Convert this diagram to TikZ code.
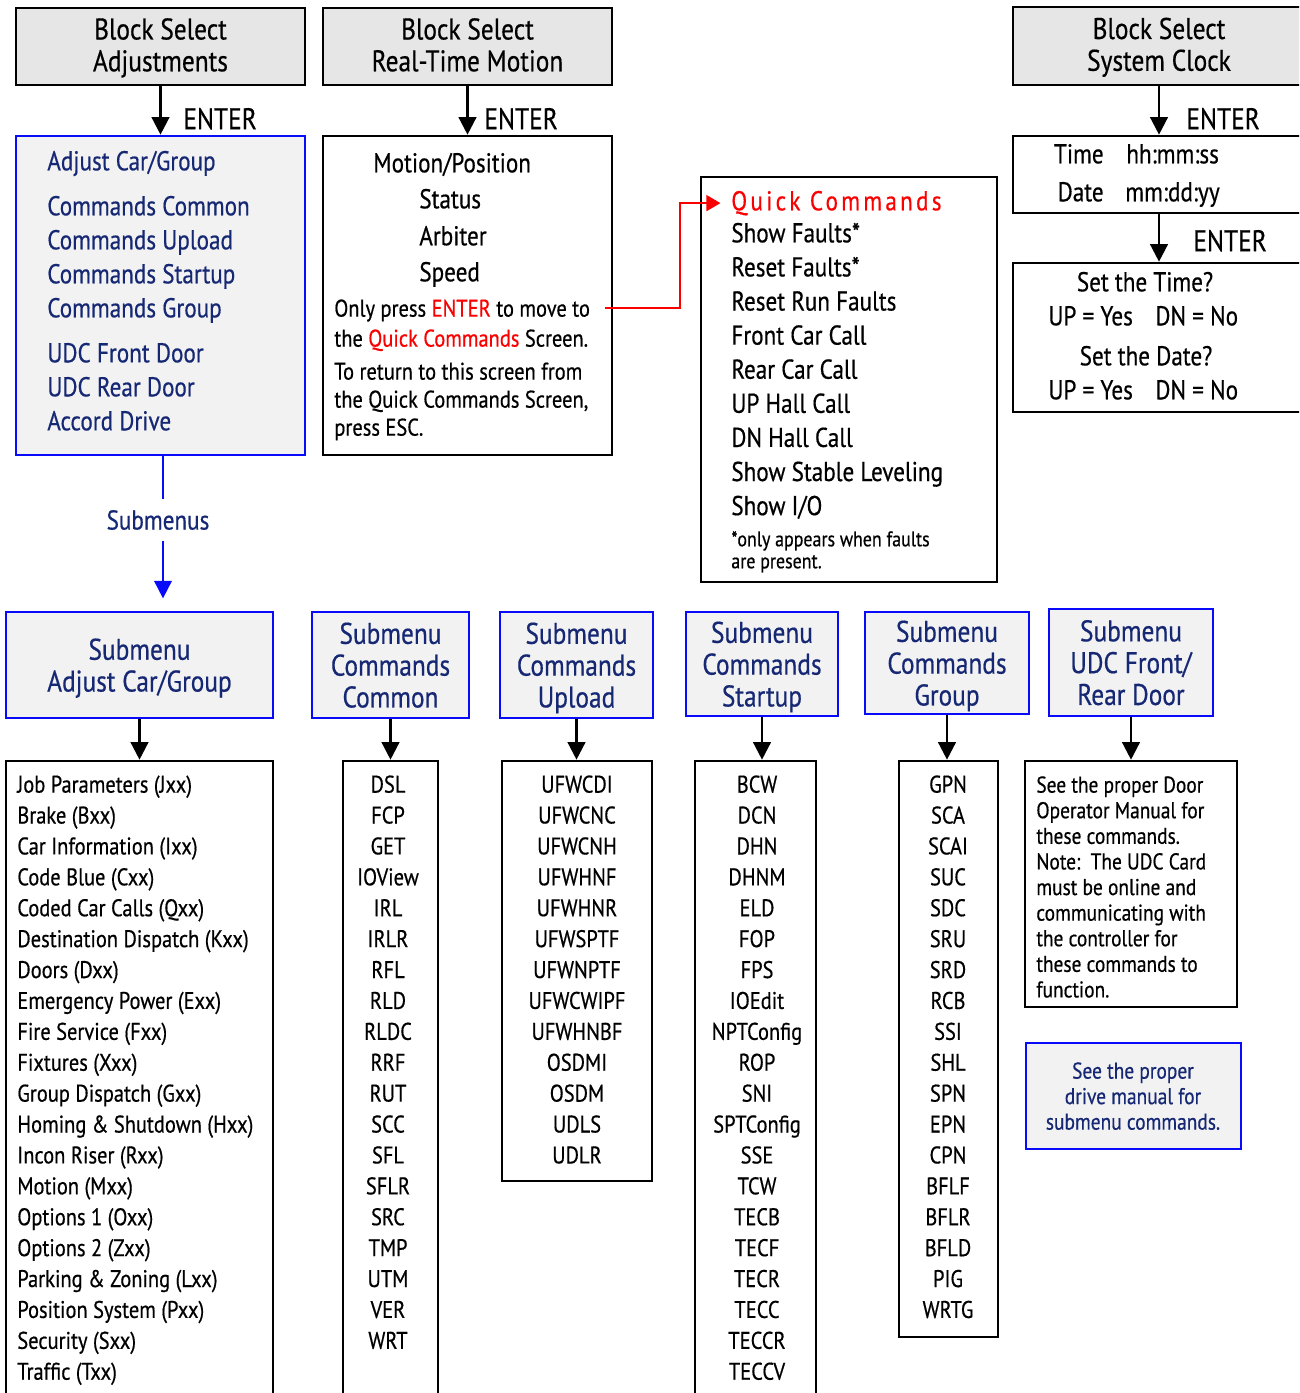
\documentclass[tikz,border=0pt]{standalone}
\usepackage{fontspec}
\setmainfont{PT Sans}[FakeStretch=0.85,FakeBold=0.5]
\newfontfamily\spacedface{PT Sans}[FakeStretch=0.85,FakeBold=0.5,LetterSpace=12]
\usetikzlibrary{arrows.meta,fit,calc}

\definecolor{blockgray}{RGB}{230,230,230}
\definecolor{menugray}{RGB}{242,242,242}
\definecolor{navy}{RGB}{22,40,115}
\definecolor{menublue}{RGB}{10,10,250}
\definecolor{alertred}{RGB}{250,0,0}

\tikzset{
  blockbox/.style={draw=black, line width=1.5pt, fill=blockgray, inner sep=0pt},
  plainbox/.style={draw=black, line width=1.5pt, fill=white, inner sep=0pt},
  menubox/.style={draw=menublue, line width=1.5pt, fill=menugray, inner sep=0pt},
  boxlbl/.style={inner sep=0pt, align=center, text depth=0pt, font=\fontsize{17}{18.1}\selectfont},
  sublbl/.style={boxlbl, text=navy},
  toptext/.style={inner sep=0pt, anchor=mid west, yshift=-2.8pt, font=\fontsize{15.5}{17}\selectfont},
  smalltext/.style={inner sep=0pt, anchor=mid west, yshift=-2.4pt, font=\fontsize{13.7}{15}\selectfont},
  enterlbl/.style={inner sep=0pt, anchor=mid west, yshift=-3.3pt, font=\fontsize{17}{18}\selectfont},
  listitem/.style={inner sep=0pt, anchor=mid, yshift=-2.4pt, font=\fontsize{13.7}{15}\selectfont},
  notetext/.style={listitem, font=\fontsize{13}{15}\selectfont},
  downarr/.style={-{Triangle[length=10pt,width=10pt]}, line width=1.4pt},
  redarr/.style={-{Triangle[length=8pt,width=9pt]}, line width=1.2pt, draw=alertred},
  blueline/.style={line width=1.1pt, draw=menublue},
}

\begin{document}
\begin{tikzpicture}[x=0.02cm, y=-0.02cm]
\useasboundingbox (0,0) rectangle (1299,1393);
\clip (0,0) rectangle (1299,1393);

%%%%% block select row
\node[blockbox, fit={(16,8) (305,85)}] (adjblk) {};
\node[blockbox, fit={(323,8) (612,85)}] (rtmblk) {};
\node[blockbox, fit={(1013,7) (1305,85)}] (clkblk) {};
\node[boxlbl, yshift=1pt] (adjblklbl) at (adjblk) {Block Select\\Adjustments};
\node[boxlbl, yshift=1pt] (rtmblklbl) at (rtmblk) {Block Select\\Real-Time Motion};
\node[boxlbl, yshift=1pt] (clkblklbl) at (clkblk) {Block Select\\System Clock};

%%%%% adjustments menu
\node[menubox, fit={(16,136) (305,455)}] (adjmenu) {};
\begin{scope}[every node/.append style={toptext, text=navy}]
  \node (am1) at (47,161) {Adjust Car/Group};
  \node (am2) at (47,206) {Commands Common};
  \node (am3) at (47,240) {Commands Upload};
  \node (am4) at (47,274) {Commands Startup};
  \node (am5) at (47,308) {Commands Group};
  \node (am6) at (47,353) {UDC Front Door};
  \node (am7) at (47,387) {UDC Rear Door};
  \node (am8) at (47,421) {Accord Drive};
\end{scope}

%%%%% real-time motion menu
\node[plainbox, fit={(323,136) (612,455)}] (rtmmenu) {};
\node[toptext] (rm1) at (373,163) {Motion/Position};
\node[toptext] (rm2) at (419,199) {Status};
\node[toptext] (rm3) at (419,236) {Arbiter};
\node[toptext] (rm4) at (419,272) {Speed};
\node[smalltext] (rm5) at (334,308) {Only press \textcolor{alertred}{ENTER} to move to};
\node[smalltext] (rm6) at (334,338) {the \textcolor{alertred}{Quick Commands} Screen.};
\node[smalltext] (rm7) at (334,371) {To return to this screen from};
\node[smalltext] (rm8) at (334,399) {the Quick Commands Screen,};
\node[smalltext] (rm9) at (334,427) {press ESC.};

%%%%% quick commands
\node[plainbox, fit={(701,177) (997,582)}] (quickmenu) {};
\node[toptext, text=alertred, font=\spacedface\fontsize{15.5}{17}\selectfont] (qtitle) at (731,201) {Quick Commands};
\foreach \t [count=\i] in {Show Faults*, Reset Faults*, Reset Run Faults, Front Car Call, Rear Car Call, UP Hall Call, DN Hall Call, Show Stable Leveling, Show I/O}
  \node[toptext] (qc\i) at (731,{233+34.1*(\i-1)}) {\t};
\node[toptext, yshift=0.6pt, font=\fontsize{12}{13}\selectfont] (qnote1) at (731,538) {*only appears when faults};
\node[toptext, yshift=0.6pt, font=\fontsize{12}{13}\selectfont] (qnote2) at (731,560) {are present.};

\coordinate (rstart) at (605,308);
\draw[redarr, shorten >=6pt] (rstart) -- ++(75,0) |- (qtitle.west);

%%%%% system clock
\node[plainbox, fit={(1013,136) (1305,213)}] (clkset) {};
\node[toptext, anchor=mid east] (tm1) at (1104,154) {Time};
\node[toptext] (tm2) at (1126,154) {hh:mm:ss};
\node[toptext, anchor=mid east] (dt1) at (1104,192) {Date};
\node[toptext] (dt2) at (1125,192) {mm:dd:yy};
\node[plainbox, fit={(1013,263) (1305,412)}] (clkask) {};
\node[toptext, anchor=mid] (ask1) at (1145,282) {Set the Time?};
\node[toptext] (ask2) at (1048,316) {UP = Yes};
\node[toptext] (ask3) at (1155,316) {DN = No};
\node[toptext, anchor=mid] (ask4) at (1146,356) {Set the Date?};
\node[toptext] (ask5) at (1048,390) {UP = Yes};
\node[toptext] (ask6) at (1155,390) {DN = No};

%%%%% enter arrows
\draw[downarr] (adjblk.south) -- (adjmenu.north);
\draw[downarr] (rtmblk.south) -- (rtmmenu.north);
\draw[downarr] (clkblk.south) -- (clkset.north);
\draw[downarr] (clkset.south) -- (clkask.north);
\node[enterlbl] (ent1) at (183,119) {ENTER};
\node[enterlbl] (ent2) at (484,119) {ENTER};
\node[enterlbl] (ent3) at (1186,119) {ENTER};
\node[enterlbl] (ent4) at (1193,241) {ENTER};

%%%%% submenu heads
\node[menubox, fit={(6,612) (273,718)}] (subadj) {};
\node[menubox, fit={(312,612) (469,718)}] (subcom) {};
\node[menubox, fit={(500,612) (653,718)}] (subupl) {};
\node[menubox, fit={(686,612) (838,716)}] (substa) {};
\node[menubox, fit={(865,612) (1029,714)}] (subgrp) {};
\node[menubox, fit={(1049,609) (1213,716)}] (subudc) {};
\node[sublbl] (subadjlbl) at (subadj) {Submenu\\Adjust Car/Group};
\node[sublbl] (subcomlbl) at (subcom) {Submenu\\Commands\\Common};
\node[sublbl] (subupllbl) at (subupl) {Submenu\\Commands\\Upload};
\node[sublbl] (substalbl) at (substa) {Submenu\\Commands\\Startup};
\node[sublbl] (subgrplbl) at (subgrp) {Submenu\\Commands\\Group};
\node[sublbl] (subudclbl) at (subudc) {Submenu\\UDC Front/\\Rear Door};

\node[inner xsep=0pt, inner ysep=6pt, text=navy, font=\fontsize{15.5}{17}\selectfont] (subs) at (158,520) {Submenus};
\coordinate (subtop) at (163,455);
\draw[blueline] (subtop) -- (subtop |- subs.north);
\draw[downarr, draw=menublue, line width=1.1pt, shorten >=7pt] (subtop |- subs.south) -- (subtop |- subadj.north);

%%%%% submenu lists
\node[plainbox, fit={(6,761) (273,1400)}] (lstadj) {};
\node[plainbox, fit={(343,761) (438,1400)}] (lstcom) {};
\node[plainbox, fit={(502,761) (652,1181)}] (lstupl) {};
\node[plainbox, fit={(695,761) (816,1400)}] (lststa) {};
\node[plainbox, fit={(899,761) (998,1337)}] (lstgrp) {};
\node[plainbox, fit={(1025,761) (1237,1007)}] (udcnote) {};
\node[menubox, fit={(1026,1043) (1241,1149)}] (drvnote) {};

\draw[downarr] (subadj.south) -- (subadj.south |- lstadj.north);
\draw[downarr] (subcom.south) -- (subcom.south |- lstcom.north);
\draw[downarr] (subupl.south) -- (subupl.south |- lstupl.north);
\draw[downarr] (substa.south) -- (substa.south |- lststa.north);
\draw[downarr] (subgrp.south) -- (subgrp.south |- lstgrp.north);
\draw[downarr] (subudc.south) -- (subudc.south |- udcnote.north);

\foreach \t [count=\i] in {Job Parameters (Jxx), Brake (Bxx), Car Information (Ixx), Code Blue (Cxx), Coded Car Calls (Qxx), Destination Dispatch (Kxx), Doors (Dxx), Emergency Power (Exx), Fire Service (Fxx), Fixtures (Xxx), Group Dispatch (Gxx), Homing \& Shutdown (Hxx), Incon Riser (Rxx), Motion (Mxx), Options 1 (Oxx), Options 2 (Zxx), Parking \& Zoning (Lxx), Position System (Pxx), Security (Sxx), Traffic (Txx)}
  \node[listitem, anchor=mid west] (ja\i) at (17,{784+30.9*(\i-1)}) {\t};

\foreach \t [count=\i] in {DSL, FCP, GET, IOView, IRL, IRLR, RFL, RLD, RLDC, RRF, RUT, SCC, SFL, SFLR, SRC, TMP, UTM, VER, WRT}
  \node[listitem] (cc\i) at (388,{784+30.9*(\i-1)}) {\t};

\foreach \t [count=\i] in {UFWCDI, UFWCNC, UFWCNH, UFWHNF, UFWHNR, UFWSPTF, UFWNPTF, UFWCWIPF, UFWHNBF, OSDMI, OSDM, UDLS, UDLR}
  \node[listitem] (cu\i) at (577,{784+30.9*(\i-1)}) {\t};

\foreach \t [count=\i] in {BCW, DCN, DHN, DHNM, ELD, FOP, FPS, IOEdit, NPTConfig, ROP, SNI, SPTConfig, SSE, TCW, TECB, TECF, TECR, TECC, TECCR, TECCV}
  \node[listitem] (cs\i) at (757,{784+30.9*(\i-1)}) {\t};

\foreach \t [count=\i] in {GPN, SCA, SCAI, SUC, SDC, SRU, SRD, RCB, SSI, SHL, SPN, EPN, CPN, BFLF, BFLR, BFLD, PIG, WRTG}
  \node[listitem] (cg\i) at (948,{784+30.9*(\i-1)}) {\t};

\foreach \t [count=\i] in {See the proper Door, Operator Manual for, these commands., Note:\ \ The UDC Card, must be online and, communicating with, the controller for, these commands to, function.}
  \node[notetext, anchor=mid west] (un\i) at (1036,{784+25.6*(\i-1)}) {\t};

\foreach \t [count=\i] in {See the proper, drive manual for, submenu commands.}
  \node[notetext, text=navy] (dn\i) at (1133,{1070+25.5*(\i-1)}) {\t};
\end{tikzpicture}
\end{document}
